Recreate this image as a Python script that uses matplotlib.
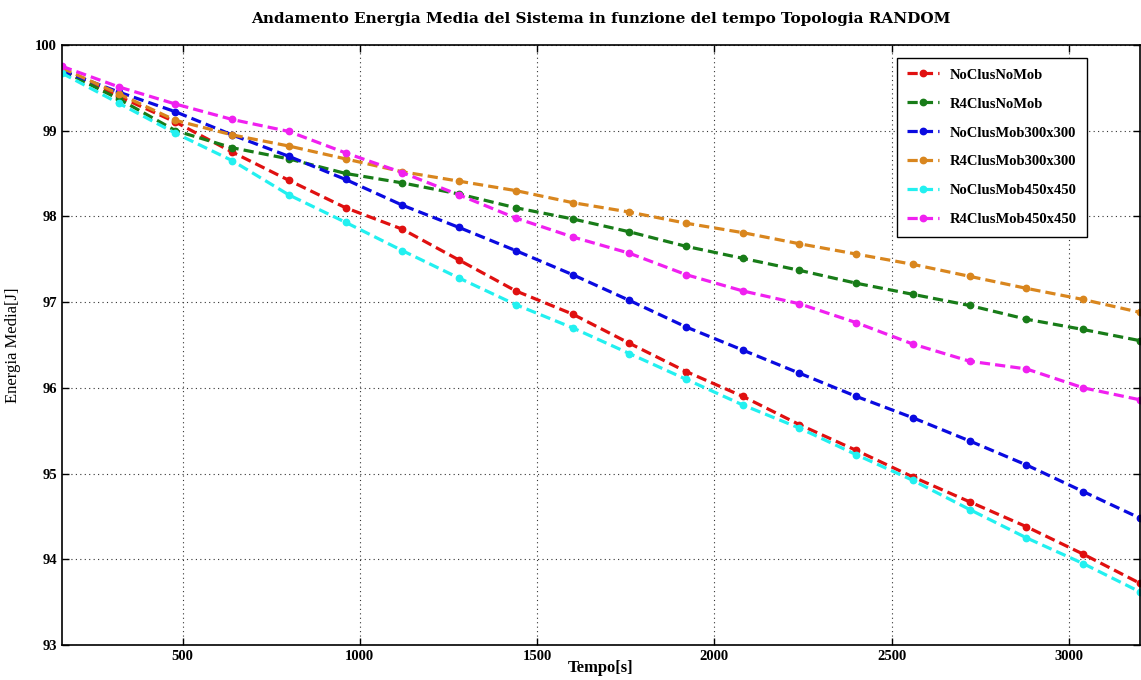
import matplotlib
matplotlib.use("Agg")
import matplotlib.pyplot as plt

plt.rcParams["font.family"] = ["Liberation Serif", "DejaVu Serif"]

tempo = [160, 320, 480, 640, 800, 960, 1120, 1280, 1440, 1600,
         1760, 1920, 2080, 2240, 2400, 2560, 2720, 2880, 3040, 3200]

no_clus_no_mob = [99.70, 99.40, 99.10, 98.75, 98.42, 98.10, 97.85, 97.49, 97.13, 96.86,
                  96.52, 96.19, 95.90, 95.57, 95.27, 94.96, 94.67, 94.38, 94.06, 93.72]
r4_clus_no_mob = [99.70, 99.37, 99.00, 98.80, 98.67, 98.50, 98.39, 98.26, 98.10, 97.97,
                  97.82, 97.65, 97.51, 97.37, 97.22, 97.09, 96.96, 96.80, 96.68, 96.55]
no_clus_mob_300 = [99.70, 99.45, 99.22, 98.95, 98.70, 98.43, 98.13, 97.87, 97.60, 97.32,
                   97.02, 96.71, 96.44, 96.17, 95.90, 95.65, 95.38, 95.10, 94.79, 94.48]
r4_clus_mob_300 = [99.73, 99.43, 99.12, 98.95, 98.82, 98.67, 98.52, 98.41, 98.30, 98.16,
                   98.05, 97.92, 97.81, 97.68, 97.56, 97.44, 97.30, 97.16, 97.03, 96.88]
no_clus_mob_450 = [99.67, 99.32, 98.97, 98.65, 98.25, 97.93, 97.60, 97.28, 96.97, 96.70,
                   96.40, 96.10, 95.80, 95.53, 95.22, 94.92, 94.58, 94.25, 93.95, 93.62]
r4_clus_mob_450 = [99.75, 99.51, 99.31, 99.13, 98.99, 98.74, 98.51, 98.25, 97.98, 97.76,
                   97.57, 97.32, 97.13, 96.98, 96.76, 96.51, 96.31, 96.22, 96.00, 95.86]

series = [
    ("NoClusNoMob", no_clus_no_mob, "#e01010"),
    ("R4ClusNoMob", r4_clus_no_mob, "#187c18"),
    ("NoClusMob300x300", no_clus_mob_300, "#0a0ae0"),
    ("R4ClusMob300x300", r4_clus_mob_300, "#d9861e"),
    ("NoClusMob450x450", no_clus_mob_450, "#22f0f0"),
    ("R4ClusMob450x450", r4_clus_mob_450, "#f020f0"),
]

fig = plt.figure(figsize=(11.41, 6.8), dpi=100)
ax = fig.add_axes([0.0543, 0.0515, 0.9447, 0.8825])

for label, values, color in series:
    ax.plot(tempo, values, linestyle=(0, (3.2, 1.6)), linewidth=2.3, color=color,
            marker="o", markersize=4.6, label=label)

ax.set_xlim(160, 3200)
ax.set_ylim(93, 100)
ax.set_xticks([500, 1000, 1500, 2000, 2500, 3000])
ax.set_yticks([93, 94, 95, 96, 97, 98, 99, 100])
ax.grid(True, linestyle=(0, (1, 3)), color="#333333", linewidth=0.8)
ax.tick_params(direction="in", length=5, width=1, top=True, right=True, labelsize=10.5)
for lab in ax.get_xticklabels() + ax.get_yticklabels():
    lab.set_fontweight("bold")
for spine in ax.spines.values():
    spine.set_linewidth(1.2)

ax.set_xlabel("Tempo[s]", fontsize=12, fontweight="bold", labelpad=-2)
ax.set_ylabel("Energia Media[J]", fontsize=12, labelpad=10)
ax.set_title("Andamento Energia Media del Sistema in funzione del tempo Topologia RANDOM",
             fontsize=11, fontweight="bold", family=["DejaVu Serif"], pad=16)

leg = ax.legend(loc="upper right", bbox_to_anchor=(0.9575, 0.99),
                prop={"weight": "bold", "size": 10.5}, labelspacing=1.08,
                handlelength=2.2, handletextpad=0.7, borderpad=0.7, fancybox=False,
                framealpha=1, edgecolor="black")
leg.get_frame().set_linewidth(1.0)

fig.savefig("out.png", dpi=100)
